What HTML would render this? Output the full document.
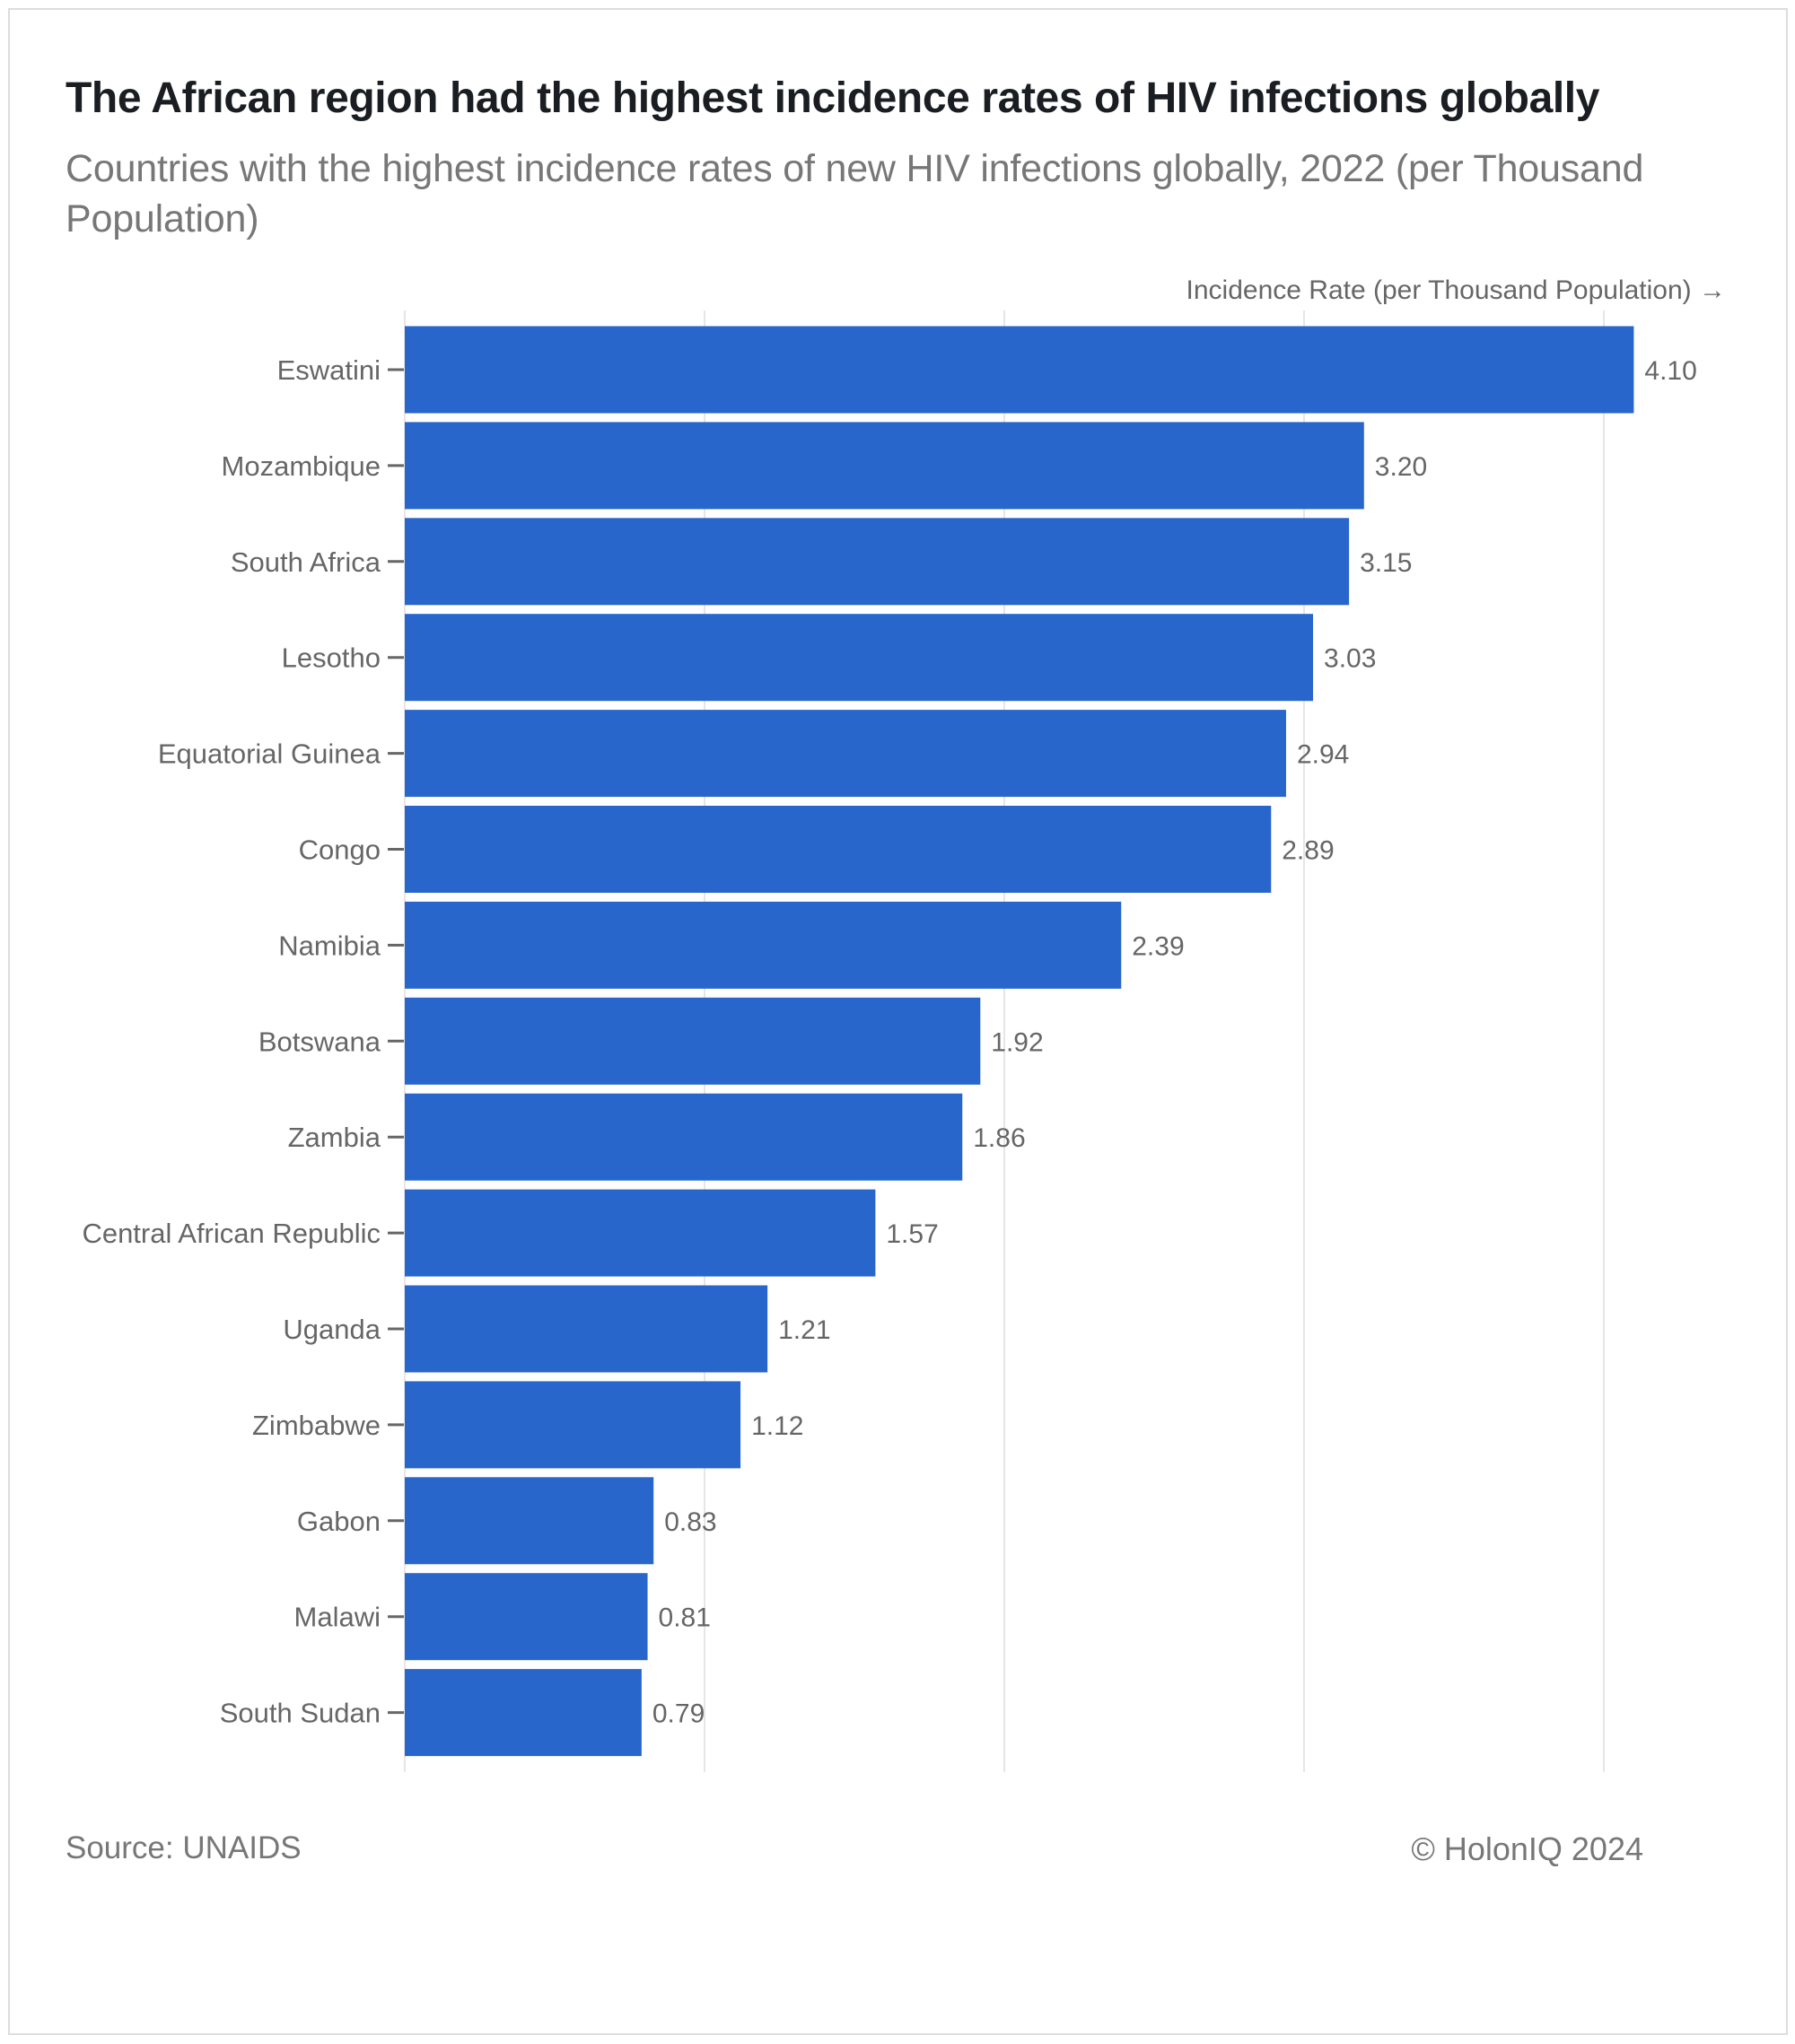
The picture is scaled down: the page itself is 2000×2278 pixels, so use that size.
<!DOCTYPE html>
<html><head><meta charset="utf-8"><style>
body{margin:0;background:#fff;}
#wrap{position:relative;width:2000px;height:2278px;overflow:hidden;background:#fff;font-family:"Liberation Sans",sans-serif;}
#frame{position:absolute;left:9px;top:9px;width:1983px;height:2259px;border:2px solid #ddd;box-sizing:border-box;}
.t{position:absolute;white-space:nowrap;}
</style></head><body>
<div id="wrap">
<div id="frame"></div>
<div class="t" style="left:73px;top:82px;font-size:48px;font-weight:bold;color:#1a1d21;letter-spacing:-0.4px;">The African region had the highest incidence rates of HIV infections globally</div>
<div class="t" style="left:73px;top:160px;font-size:43px;color:#777;line-height:56px;white-space:normal;width:1820px;letter-spacing:-0.2px;">Countries with the highest incidence rates of new HIV infections globally, 2022 (per Thousand Population)</div>
<div class="t" style="left:73px;top:2040px;font-size:35px;color:#777;">Source: UNAIDS</div>
<div class="t" style="right:169px;top:2040px;font-size:36px;color:#777;">© HolonIQ 2024</div>
<svg id="chart" width="2000" height="2278" style="position:absolute;left:0;top:0"></svg>
</div>
<script>
const categories=["Eswatini","Mozambique","South Africa","Lesotho","Equatorial Guinea","Congo","Namibia","Botswana","Zambia","Central African Republic","Uganda","Zimbabwe","Gabon","Malawi","South Sudan"];
const values=[4.10,3.20,3.15,3.03,2.94,2.89,2.39,1.92,1.86,1.57,1.21,1.12,0.83,0.81,0.79];
const ticks=[0,1,2,3,4];
const NS="http://www.w3.org/2000/svg";
const svg=document.getElementById('chart');
const x0=451,unit=334;
const x=v=>x0+v*unit;
const firstC=412,step=106.9,barH=97;
const y=i=>firstC+i*step;
function mk(t,a){const e=document.createElementNS(NS,t);for(const k in a)e.setAttribute(k,a[k]);svg.appendChild(e);return e;}
ticks.forEach(t=>{
  const g=mk('line',{x1:x(t),x2:x(t),y1:346,y2:1975,stroke:'#e6e6e6','stroke-width':2});
  
  
});
const at=mk('text',{x:1923,y:333,'text-anchor':'end','font-size':30,fill:'#666','font-family':'Liberation Sans, DejaVu Sans, sans-serif'});
at.textContent='Incidence Rate (per Thousand Population) →';


categories.forEach((c,i)=>{
  const cy=y(i);
  const r=mk('rect',{x:x0,y:cy-barH/2,width:x(values[i])-x0,height:barH,fill:'#2966cc'});
  
  
  const tk=mk('line',{x1:432,x2:450,y1:cy,y2:cy,stroke:'#666','stroke-width':3});
  
  
  const l=mk('text',{x:424,y:cy+11,'text-anchor':'end','font-size':31,fill:'#666'});
  l.textContent=c;
  
  
  const v=mk('text',{x:x(values[i])+12,y:cy+11,'font-size':30,fill:'#666'});
  v.textContent=values[i].toFixed(2);
  
  
});
</script>
</body></html>
